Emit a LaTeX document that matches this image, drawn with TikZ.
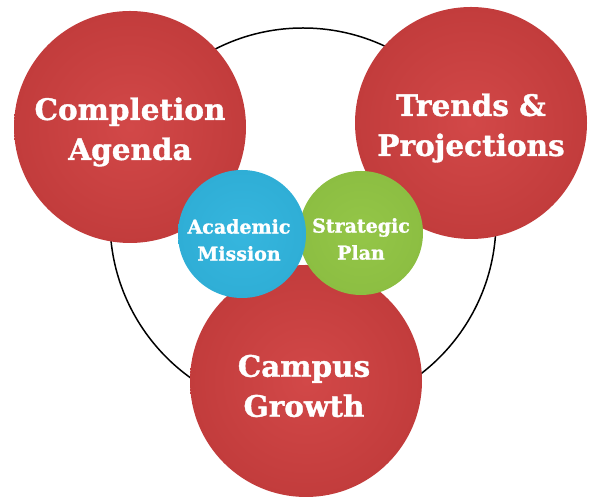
\documentclass[tikz,border=0pt]{standalone}
\usepackage{fontspec}
\setmainfont{DejaVu Serif}
\newfontfamily\heavy{DejaVu Serif}[UprightFont={* Bold}, UprightFeatures={FakeBold=1.2}]
\definecolor{cred}{HTML}{CB4242}
\definecolor{credin}{HTML}{D24848}
\definecolor{credout}{HTML}{C23C3C}
\definecolor{cblue}{HTML}{2FAED6}
\definecolor{cbluein}{HTML}{36B6DE}
\definecolor{cgreen}{HTML}{8CBE42}
\definecolor{cgreenin}{HTML}{94C648}
\tikzset{
  bigc/.style={circle, inner sep=0pt, minimum size=232pt, shading=radial,
    inner color=credin, outer color=credout},
  bigt/.style={text=white, inner sep=0pt,
    font=\fontsize{29.5}{40}\selectfont\heavy, align=center},
  smallc/.style={circle, inner sep=0pt},
  smallt/.style={text=white, inner sep=0pt,
    font=\fontsize{19}{27}\selectfont\heavy, align=center},
}
\begin{document}
\begin{tikzpicture}[x=1pt,y=1pt]
\useasboundingbox (0,0) rectangle (590,500);
\node[circle, draw=black, line width=1.5pt, minimum size=386pt, inner sep=0pt] (outer) at (303,279) {};
\node[bigc] (comp) at (130,373) {};
\node[bigc] (trend) at (471,377) {};
\node[bigc] (campus) at (306,119) {};
\node[bigt] (compt) at ([yshift=-5pt]comp.center) {Completion\\Agenda};
\node[bigt] (trendt) at ([yshift=-5pt]trend.center) {Trends \&\\Projections};
\node[bigt] (campust) at ([xshift=-2pt,yshift=-5pt]campus.center) {Campus\\Growth};
\node[smallc, minimum size=124pt, shading=radial, inner color=cgreenin, outer color=cgreen] (strat) at (361,267) {};
\node[smallc, minimum size=128pt, shading=radial, inner color=cbluein, outer color=cblue] (acad) at (242,266) {};
\node[smallt] (stratt) at ([yshift=-6pt]strat.center) {Strategic\\Plan};
\node[smallt] (acadt) at ([xshift=-3pt,yshift=-6pt]acad.center) {Academic\\Mission};
\end{tikzpicture}
\end{document}
